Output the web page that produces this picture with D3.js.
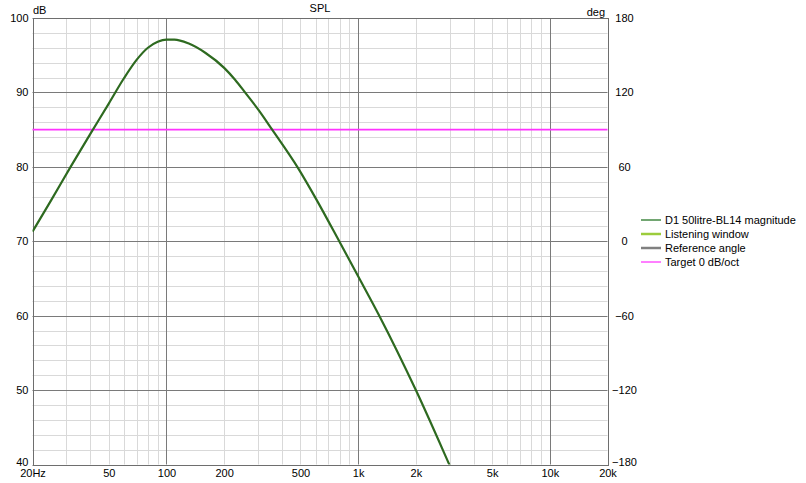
<!DOCTYPE html>
<html><head><meta charset="utf-8">
<script src="https://cdn.jsdelivr.net/npm/d3@7"></script>
<style>
body{margin:0;background:#fff;}
svg{display:block;font-family:"Liberation Sans",Arial,sans-serif;}
</style></head>
<body><svg id="c" width="806" height="483"></svg>
<script>
// ---- data ----
const freqs = [20,25,31.6,40,50,60,70,80,90,100,110,130,160,200,228,257,300,356,487,600,797,1000,1289,2000,2989,3500];
const magnitude = [71.3,75.5,80,84.4,88.5,91.9,94.4,96.0,96.8,97.1,97.1,96.6,95.3,93.3,91.7,90,87.75,85,79.8,75.8,70,65.3,60,50,40,36];
const targetLevel = 85;
const xTickValues = [20,50,100,200,500,1000,2000,5000,10000,20000];
const xTickLabels = ["20Hz","50","100","200","500","1k","2k","5k","10k","20k"];
const yTicks = [40,50,60,70,80,90,100];
const degTicks = [-180,-120,-60,0,60,120,180];
const legendItems = ["D1 50litre-BL14 magnitude","Listening window","Reference angle","Target 0 dB/oct"];
const legendColors = ["#156b15","#9ccc3c","#808080","#ff00ff"];
const legendWidths = [1.2,2.5,2.5,1];

// ---- layout ----
const L=32.5, R=607.5, T=18, B=464.5;
const svg=d3.select("#c");
const x=d3.scaleLog().domain([20,20000]).range([L,R]);
const y=d3.scaleLinear().domain([40,100]).range([B,T]);
const yDeg=d3.scaleLinear().domain([-180,180]).range([B,T]);
const px=v=>Math.round(v)+0.5;

// minor grid
const minorX=[];
[10,100,1000,10000].forEach(d=>{for(let k=2;k<=9;k++){const f=d*k; if(f>20&&f<20000&&![100,1000,10000].includes(f)) minorX.push(f);}});
const minorY=d3.range(42,100,2).filter(v=>v%10!==0);
const g=svg.append("g");
g.selectAll(".mx").data(minorX).join("line")
 .attr("x1",d=>px(x(d))).attr("x2",d=>px(x(d))).attr("y1",T).attr("y2",B)
 .attr("stroke","#d9d9d9").attr("stroke-width",1);
g.selectAll(".my").data(minorY).join("line")
 .attr("x1",L).attr("x2",R).attr("y1",d=>px(y(d))).attr("y2",d=>px(y(d)))
 .attr("stroke","#d9d9d9").attr("stroke-width",1);
// major grid
g.selectAll(".Mx").data([100,1000,10000]).join("line")
 .attr("x1",d=>px(x(d))).attr("x2",d=>px(x(d))).attr("y1",T).attr("y2",B)
 .attr("stroke","#7a7a7a").attr("stroke-width",1);
g.selectAll(".My").data(yTicks).join("line")
 .attr("x1",L).attr("x2",R).attr("y1",d=>px(y(d))).attr("y2",d=>px(y(d)))
 .attr("stroke","#7a7a7a").attr("stroke-width",1);
// frame
g.append("rect").attr("x",px(L)).attr("y",px(T)).attr("width",Math.round(R)-Math.round(L)).attr("height",Math.round(B)-Math.round(T))
 .attr("fill","none").attr("stroke","#6e6e6e").attr("stroke-width",1);

// clip
svg.append("clipPath").attr("id","clip").append("rect").attr("x",L).attr("y",T).attr("width",R-L).attr("height",B-T);

// target line
svg.append("line").attr("x1",L).attr("x2",R).attr("y1",y(targetLevel)).attr("y2",y(targetLevel))
 .attr("stroke","#ff33ff").attr("stroke-width",1.6);

// magnitude curve
const pts=freqs.map((f,i)=>[f,magnitude[i]]);
svg.append("path").datum(pts).attr("clip-path","url(#clip)")
 .attr("d",d3.line().x(d=>x(d[0])).y(d=>y(d[1])).curve(d3.curveMonotoneX))
 .attr("fill","none").attr("stroke","#2e6a20").attr("stroke-width",2.2);

// axes (labels only)
const fs="11px";
const ax=svg.append("g").attr("transform",`translate(0,${B+5})`)
 .call(d3.axisBottom(x).tickValues(xTickValues).tickFormat((d,i)=>xTickLabels[i]).tickSize(0).tickPadding(0));
ax.select(".domain").remove();
ax.selectAll("text").attr("font-size",fs).attr("fill","#000").attr("font-family","Liberation Sans, Arial, sans-serif");

const ay=svg.append("g").attr("transform",`translate(${L-4},0)`)
 .call(d3.axisLeft(y).tickValues(yTicks).tickSize(0).tickPadding(0));
ay.select(".domain").remove();
ay.selectAll("text").attr("font-size",fs).attr("fill","#000").attr("font-family","Liberation Sans, Arial, sans-serif");
ay.selectAll(".tick").filter(d=>d===40).select("text").attr("dy","0.1em");

const ar=svg.append("g").attr("transform",`translate(${R+17},0)`)
 .call(d3.axisRight(yDeg).tickValues(degTicks).tickSize(0).tickPadding(0));
ar.select(".domain").remove();
ar.selectAll("text").attr("font-size",fs).attr("fill","#000").attr("text-anchor","middle").attr("font-family","Liberation Sans, Arial, sans-serif");
ar.selectAll(".tick").filter(d=>d===-180).select("text").attr("dy","0.1em");

// titles
svg.append("text").attr("x",(L+R)/2).attr("y",12).attr("text-anchor","middle").attr("font-size",fs).text("SPL");
svg.append("text").attr("x",33).attr("y",14).attr("font-size",fs).text("dB");
svg.append("text").attr("x",605).attr("y",16).attr("text-anchor","end").attr("font-size",fs).text("deg");

// legend
const lg=svg.append("g");
legendItems.forEach((t,i)=>{
  const yy=220+i*14;
  lg.append("line").attr("x1",641).attr("x2",661).attr("y1",yy).attr("y2",yy)
    .attr("stroke",legendColors[i]).attr("stroke-width",legendWidths[i]);
  lg.append("text").attr("x",665).attr("y",yy+4).attr("font-size",fs).text(t);
});
</script></body></html>
